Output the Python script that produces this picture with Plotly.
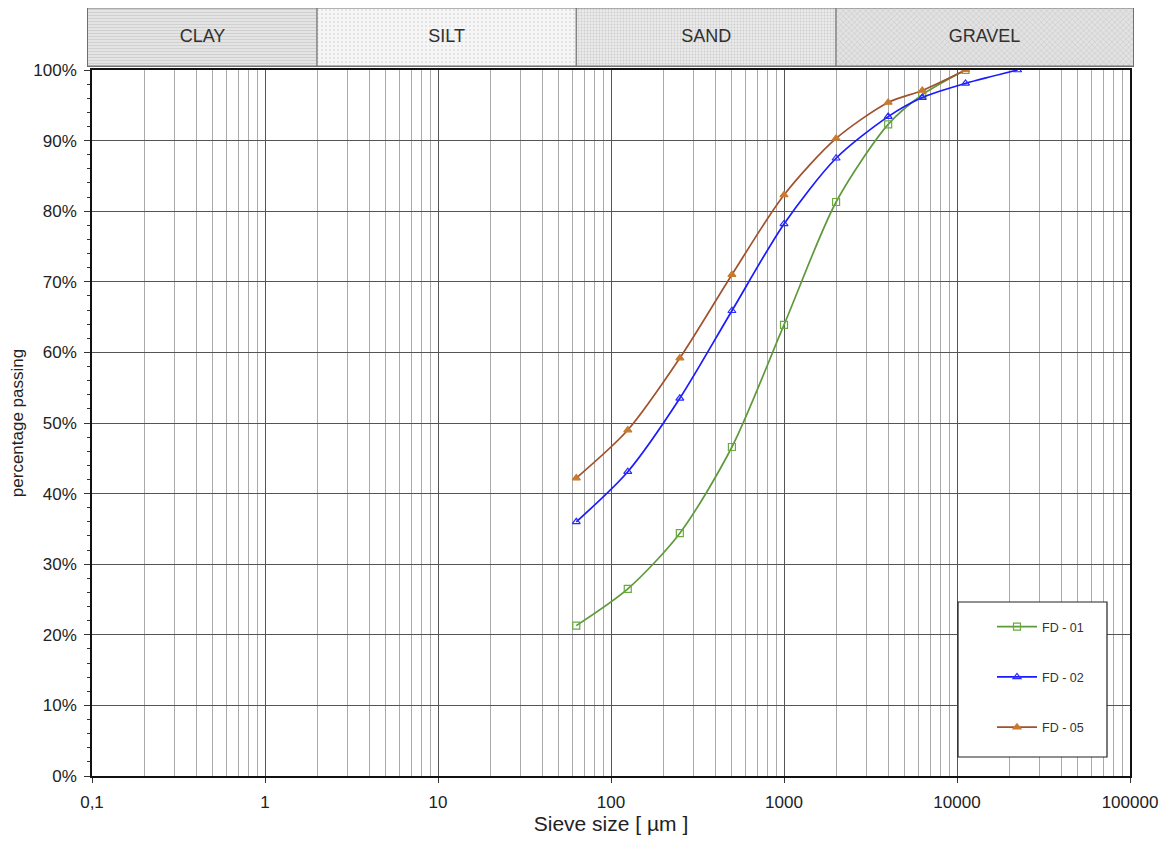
import math
import plotly.graph_objects as go

# ---- data ----
sieve_fd01 = [63, 125, 250, 500, 1000, 2000, 4000, 6300, 11200]
pass_fd01 = [21.3, 26.5, 34.4, 46.6, 63.9, 81.3, 92.3, 96.5, 100.0]

sieve_fd02 = [63, 125, 250, 500, 1000, 2000, 4000, 6300, 11200, 22400]
pass_fd02 = [36.0, 43.1, 53.5, 65.9, 78.2, 87.5, 93.4, 96.1, 98.1, 100.0]

sieve_fd05 = [63, 125, 250, 500, 1000, 2000, 4000, 6300, 11200]
pass_fd05 = [42.2, 49.0, 59.2, 71.0, 82.3, 90.3, 95.4, 97.1, 100.0]

series_names = ["FD - 01", "FD - 02", "FD - 05"]

class_names = ["CLAY", "SILT", "SAND", "GRAVEL"]
class_bounds = [0.01, 2, 63, 2000, 1e6]

x_tickvals = [0.1, 1, 10, 100, 1000, 10000, 100000]
x_ticktext = ["0,1", "1", "10", "100", "1000", "10000", "100000"]

# ---- geometry (page px, page has an 8px body margin) ----
OFF = 8
W, H = 1176, 843
main_x0, main_x1 = 92 - OFF, 1130 - OFF
main_y0, main_y1 = 70 - OFF, 776 - OFF
band_x0, band_x1 = 88 - OFF, 1133 - OFF
band_y0, band_y1 = 0, 66 - OFF
ml, mr, mt, mb = band_x0, W - band_x1, 0, H - main_y1
pw = W - ml - mr
ph = H - mt - mb
dec = (main_x1 - main_x0) / 6.0

FONT = "Liberation Sans, Arial, sans-serif"

fig = go.Figure()

styles = [
    dict(color="#5e9a3c", symbol="square-open", mcolor="#6aaa3c"),
    dict(color="#1a1aff", symbol="triangle-up-open", mcolor="#2a2aff"),
    dict(color="#a0522d", symbol="triangle-up", mcolor="#c87a30"),
]
for i, (xs, ys) in enumerate([(sieve_fd01, pass_fd01), (sieve_fd02, pass_fd02), (sieve_fd05, pass_fd05)]):
    st = styles[i]
    fig.add_trace(go.Scatter(
        x=xs, y=ys, name=series_names[i], mode="lines+markers",
        line=dict(color=st["color"], width=1.7, shape="spline", smoothing=0.8),
        marker=dict(symbol=st["symbol"], size=7, color=st["mcolor"],
                    line=dict(color=st["mcolor"], width=1.2)),
        legendgroup=series_names[i],
        xaxis="x", yaxis="y",
    ))

# ---- soil class band ----
patterns = [
    dict(shape="-", bgcolor="#e4e4e4", fgcolor="#b8b8b8", size=3, solidity=0.3),
    dict(shape=".", bgcolor="#f6f6f6", fgcolor="#c4c4c4", size=4, solidity=0.2),
    dict(shape=".", bgcolor="#eaeaea", fgcolor="#b0b0b0", size=3, solidity=0.3),
    dict(shape="x", bgcolor="#e2e2e2", fgcolor="#a8a8a8", size=4, solidity=0.25),
]
band_lo = -1 - (main_x0 - band_x0) / dec
band_hi = 5 + (band_x1 - main_x1) / dec
for i, nm in enumerate(class_names):
    a, b = class_bounds[i], class_bounds[i + 1]
    fig.add_trace(go.Scatter(
        x=[a, b, b, a, a], y=[0, 0, 1, 1, 0], mode="lines", fill="toself",
        fillcolor=patterns[i]["bgcolor"],
        fillpattern=patterns[i],
        line=dict(color="#707070", width=1), showlegend=False, hoverinfo="skip",
        xaxis="x2", yaxis="y2",
    ))
    la = max(math.log10(a), band_lo)
    lb = min(math.log10(b), band_hi)
    fig.add_trace(go.Scatter(
        x=[10 ** ((la + lb) / 2)], y=[0.5], mode="text", text=[nm],
        textfont=dict(family=FONT, size=18, color="#303030"),
        showlegend=False, hoverinfo="skip", xaxis="x2", yaxis="y2",
    ))

xdom = [(main_x0 - ml) / pw, (main_x1 - ml) / pw]
ydom = [(H - mb - main_y1) / ph, (H - mb - main_y0) / ph]
bdom = [(H - mb - band_y1) / ph, 1.0]

fig.update_layout(
    width=W, height=H,
    margin=dict(l=ml, r=mr, t=mt, b=mb, autoexpand=False),
    paper_bgcolor="white", plot_bgcolor="white",
    font=dict(family=FONT, size=14, color="#222"),
    xaxis=dict(
        type="log", domain=xdom, range=[-1, 5], automargin=False,
        tickvals=x_tickvals, ticktext=x_ticktext,
        tickfont=dict(size=17, color="#222"), ticklabelstandoff=5,
        showgrid=True, gridcolor="#555555", gridwidth=1,
        minor=dict(dtick="D1", showgrid=True, gridcolor="#aaaaaa", gridwidth=1, ticks=""),
        ticks="outside", ticklen=5, tickcolor="#333",
        showline=True, linecolor="#111", linewidth=1.5, mirror=True,
        title=dict(text="Sieve size [ µm ]", font=dict(size=21, color="#222"), standoff=4),
        zeroline=False,
    ),
    yaxis=dict(
        domain=ydom, range=[0, 100], dtick=10, ticksuffix="%", automargin=False,
        tickfont=dict(size=17, color="#222"), ticklabelstandoff=4,
        showgrid=True, gridcolor="#555555", gridwidth=1,
        minor=dict(dtick=2, ticks="outside", ticklen=3, tickcolor="#333", showgrid=False),
        ticks="outside", ticklen=6, tickcolor="#333",
        showline=True, linecolor="#111", linewidth=1.5, mirror=True,
        title=dict(text="percentage passing", font=dict(size=17, color="#222"), standoff=12),
        zeroline=False,
    ),
    xaxis2=dict(type="log", domain=[0, 1], range=[band_lo, band_hi], automargin=False,
                showgrid=False, showticklabels=False, ticks="", zeroline=False,
                showline=True, linecolor="#707070", mirror=True, anchor="y2"),
    yaxis2=dict(domain=bdom, range=[0, 1], showgrid=False, showticklabels=False,
                automargin=False,
                ticks="", zeroline=False, showline=True, linecolor="#707070",
                mirror=True, anchor="x2"),
    legend=dict(
        x=(992 - OFF - ml) / pw, y=(H - mb - (612 - OFF)) / ph, xanchor="left", yanchor="top",
        bgcolor="rgba(255,255,255,0)", borderwidth=0,
        font=dict(family=FONT, size=12.5, color="#333"),
        tracegroupgap=31, itemwidth=40,
    ),
    shapes=[dict(type="rect", xref="paper", yref="paper",
                 x0=(958 - OFF - ml) / pw, x1=(1107 - OFF - ml) / pw,
                 y0=(H - mb - (757 - OFF)) / ph, y1=(H - mb - (602 - OFF)) / ph,
                 line=dict(color="#222", width=1.2), fillcolor="white", layer="above")],
)
fig.write_html("out.html")
